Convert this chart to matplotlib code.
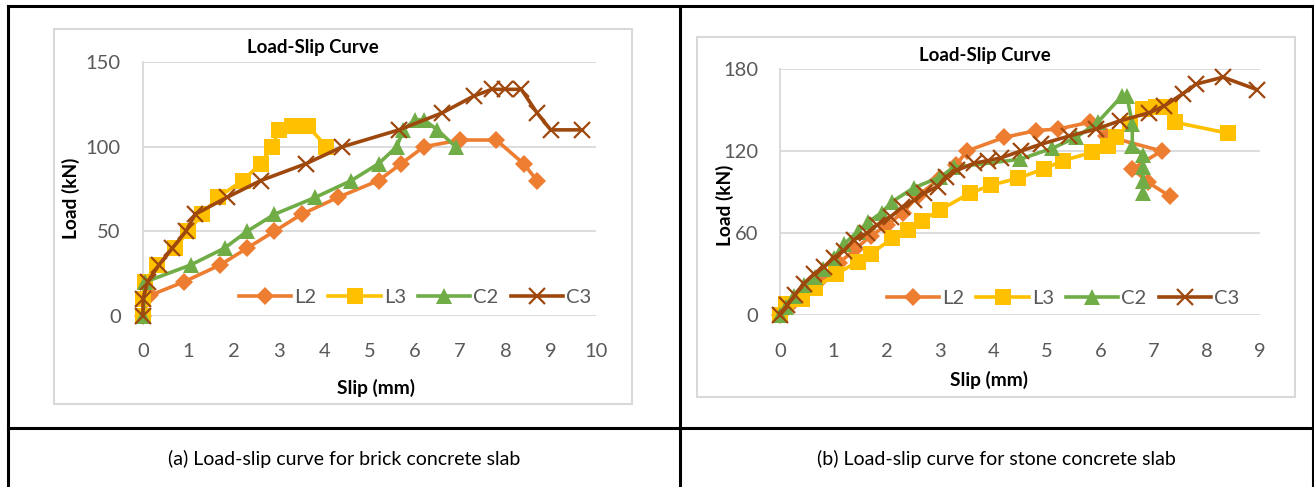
import matplotlib.pyplot as plt
from matplotlib.lines import Line2D
from matplotlib.patches import Rectangle

plt.rcParams['font.family'] = ['Lato', 'DejaVu Sans']

# Brick concrete slab (a)
brick_L2_slip = [0, 0.15, 0.9, 1.7, 2.3, 2.9, 3.5, 4.3, 5.2, 5.7, 6.2, 7.0, 7.8, 8.4, 8.7]
brick_L2_load = [0, 12, 20, 30, 40, 50, 60, 70, 80, 90, 100, 104, 104, 90, 80]
brick_L3_slip = [0, 0, 0.05, 0.3, 0.7, 1.0, 1.3, 1.65, 2.2, 2.6, 2.85, 3.0, 3.3, 3.65, 4.05]
brick_L3_load = [0, 10, 20, 30, 40, 50, 60, 70, 80, 90, 100, 110, 112, 112, 100]
brick_C2_slip = [0, 0.05, 1.05, 1.8, 2.3, 2.9, 3.8, 4.6, 5.2, 5.6, 5.75, 6.0, 6.2, 6.5, 6.9]
brick_C2_load = [0, 20, 30, 40, 50, 60, 70, 80, 90, 100, 110, 116, 116, 110, 100]
brick_C3_slip = [0, 0, 0.1, 0.35, 0.65, 0.95, 1.15, 1.85, 2.6, 3.6, 4.4, 5.65, 6.6, 7.3,
                 7.7, 8.0, 8.35, 8.7, 9.0, 9.7]
brick_C3_load = [0, 10, 20, 30, 40, 50, 60, 70, 80, 90, 100, 110, 120, 130,
                 134, 134, 134, 120, 110, 110]

# Stone concrete slab (b)
stone_L2_slip = [0, 0.2, 0.5, 0.8, 1.1, 1.4, 1.7, 2.0, 2.3, 2.6, 3.0, 3.3, 3.5, 4.2, 4.8,
                 5.2, 5.8, 6.1, 7.15, 6.6, 6.9, 7.3]
stone_L2_load = [0, 8, 18, 28, 38, 48, 58, 66, 75, 88, 100, 110, 120, 130, 135,
                 136, 141, 131, 120, 107, 97, 87]
stone_L3_slip = [0, 0.1, 0.4, 0.65, 1.05, 1.45, 1.7, 2.1, 2.4, 2.65, 3.0, 3.55, 3.95, 4.45,
                 4.95, 5.3, 5.85, 6.15, 6.3, 6.55, 6.8, 7.05, 7.3, 7.4, 8.4]
stone_L3_load = [0, 8, 12, 20, 30, 39, 45, 56, 62, 69, 77, 89, 95, 100,
                 107, 113, 119, 124, 130, 140, 151, 152, 152, 141, 133]
stone_C2_slip = [0, 0.1, 0.25, 0.45, 0.65, 0.8, 1.0, 1.2, 1.45, 1.65, 1.9, 2.1, 2.5, 3.0,
                 3.25, 4.5, 5.1, 5.55, 5.95, 6.4, 6.5, 6.6, 6.6, 6.8, 6.8, 6.8, 6.8]
stone_C2_load = [0, 6, 14, 22, 28, 34, 42, 52, 61, 68, 75, 83, 93, 101,
                 108, 114, 122, 130, 141, 160, 160, 140, 124, 117, 108, 98, 89]
stone_C3_slip = [0, 0.13, 0.28, 0.44, 0.63, 0.81, 1.0, 1.19, 1.38, 1.63, 1.82, 2.07, 2.29,
                 2.51, 2.69, 2.95, 3.1, 3.32, 3.63, 3.89, 4.14, 4.51, 4.89, 5.42, 5.92,
                 6.36, 6.92, 7.2, 7.55, 7.8, 8.3, 8.93]
stone_C3_load = [0, 7, 15, 23, 30, 35, 42, 47, 55, 60, 66, 72, 79,
                 84, 89, 94, 101, 106, 111, 113, 115, 120, 125, 131, 136,
                 142, 148, 153, 162, 169, 174, 165]

series_names = ['L2', 'L3', 'C2', 'C3']
colors = ['#ED7D31', '#FFC000', '#70AD47', '#9E480E']
markers = ['D', 's', '^', 'x']
msizes = [9, 11.5, 11, 11]

W, H = 1314, 487
fig = plt.figure(figsize=(W / 100, H / 100), dpi=100)


def fx(x):
    return x / W


def fy(y):
    return 1 - y / H


def draw_panel(rect, data, xmax, ymax, ystep, title_xy, xlabel_xy, ylabel_xy, leg_xy):
    x0, y0, x1, y1 = rect
    ax = fig.add_axes([fx(x0), fy(y1), fx(x1) - fx(x0), fy(y0) - fy(y1)])
    handles = []
    for (sx, sy), name, c, m, ms in zip(data, series_names, colors, markers, msizes):
        h, = ax.plot(sx, sy, color=c, lw=2.6, marker=m, ms=ms, mew=1.6 if m == 'x' else 0,
                     mec=c, mfc=c, clip_on=False, zorder=3, label=name)
        handles.append(h)
    ax.set_xlim(0, xmax)
    ax.set_ylim(0, ymax)
    ax.set_xticks(range(0, xmax + 1))
    ax.set_yticks(range(0, ymax + 1, ystep))
    ax.grid(axis='y', color='#D9D9D9', lw=1.3)
    ax.set_axisbelow(True)
    for s in ['top', 'right', 'bottom']:
        ax.spines[s].set_visible(False)
    ax.spines['left'].set_color('#D9D9D9')
    ax.spines['left'].set_linewidth(1.3)
    ax.tick_params(length=0, labelsize=14.5, labelcolor='#595959')
    ax.tick_params(axis='x', pad=20)
    ax.tick_params(axis='y', pad=16)
    fig.text(fx(title_xy[0]), fy(title_xy[1]), 'Load-Slip Curve', fontsize=13.4,
             fontweight='bold', ha='center', va='center')
    fig.text(fx(xlabel_xy[0]), fy(xlabel_xy[1]), 'Slip (mm)', fontsize=13.8,
             fontweight='bold', ha='center', va='center')
    fig.text(fx(ylabel_xy[0]), fy(ylabel_xy[1]), 'Load (kN)', fontsize=13.8,
             fontweight='bold', ha='center', va='center', rotation=90)
    fig.legend(handles, series_names, ncol=4, loc='center',
               bbox_to_anchor=(fx(leg_xy[0]), fy(leg_xy[1])), frameon=False,
               fontsize=14.5, labelcolor='#595959', handlelength=2.6,
               handletextpad=0.15, columnspacing=0.6)
    return ax


brick = [(brick_L2_slip, brick_L2_load), (brick_L3_slip, brick_L3_load),
         (brick_C2_slip, brick_C2_load), (brick_C3_slip, brick_C3_load)]
stone = [(stone_L2_slip, stone_L2_load), (stone_L3_slip, stone_L3_load),
         (stone_C2_slip, stone_C2_load), (stone_C3_slip, stone_C3_load)]

draw_panel((143, 62.3, 596, 315.7), brick, 10, 150, 50,
           (313, 48), (376, 388), (71, 198), (415, 297))
draw_panel((780.3, 69, 1260.3, 315), stone, 9, 180, 60,
           (984.5, 55), (989, 380), (724.5, 205), (1063, 298))

# chart area frames
for (a, b, c, d) in [(53.6, 29, 632, 404), (697, 36.7, 1294.6, 396.7)]:
    fig.add_artist(Rectangle((fx(a), fy(d)), fx(c) - fx(a), fy(b) - fy(d),
                             transform=fig.transFigure, fill=False,
                             ec='#D9D9D9', lw=1.5))

# table borders
tbl = dict(color='black', lw=2.2, transform=fig.transFigure)
fig.add_artist(Line2D([fx(8), fx(1314)], [fy(6), fy(6)], **tbl))
fig.add_artist(Line2D([fx(8), fx(1314)], [fy(428), fy(428)], **tbl))
fig.add_artist(Line2D([fx(8), fx(8)], [fy(6), fy(487)], **tbl))
fig.add_artist(Line2D([fx(680), fx(680)], [fy(6), fy(487)], **tbl))
fig.add_artist(Line2D([fx(1312.5), fx(1312.5)], [fy(6), fy(487)], **tbl))

fig.text(fx(344), fy(459), '(a) Load-slip curve for brick concrete slab',
         fontsize=14, ha='center', va='center')
fig.text(fx(996.6), fy(459), '(b) Load-slip curve for stone concrete slab',
         fontsize=14, ha='center', va='center')

fig.savefig('out.png', dpi=100)
